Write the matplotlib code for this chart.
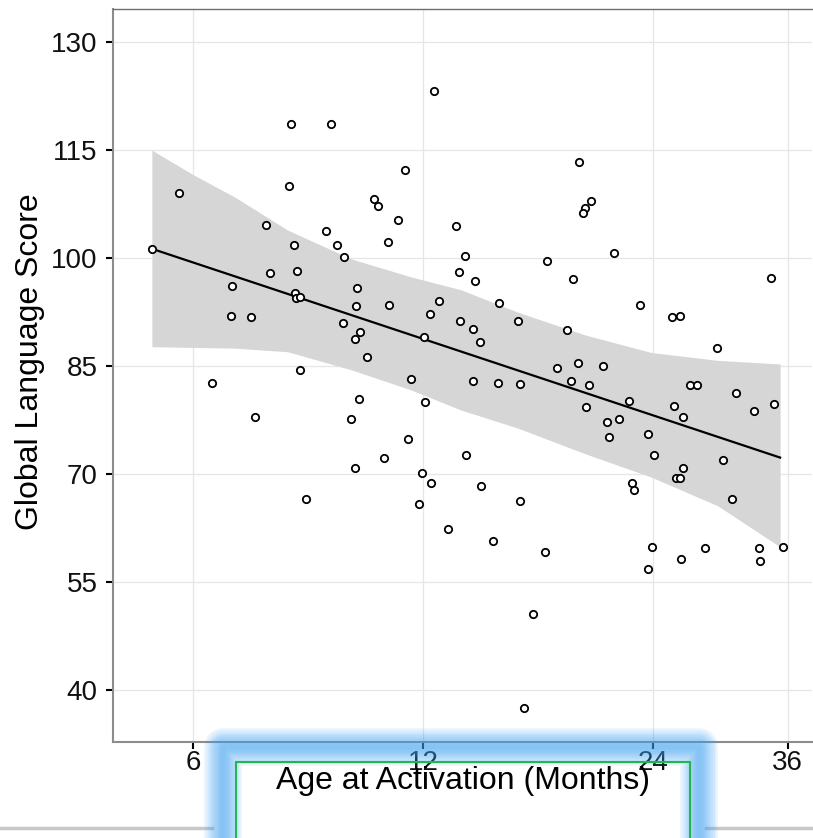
"""Global language score vs age at activation, with linear fit and band."""
import matplotlib
matplotlib.use("Agg")
import matplotlib.pyplot as plt
from matplotlib.patches import Rectangle
from matplotlib.lines import Line2D
from matplotlib.ticker import NullLocator

plt.rcParams["font.family"] = ["Liberation Sans", "DejaVu Sans"]

# age at activation (months) and global language score
age = [12.40, 8.06, 9.09, 11.37, 8.01, 5.76, 10.34, 10.47, 11.14, 13.26,
       7.47, 8.96, 10.81, 8.13, 9.26, 5.30, 9.47, 13.39, 7.57, 8.21,
       6.75, 9.84, 8.17, 8.19, 8.29, 9.81, 10.84, 12.59, 12.27, 6.72,
       7.15, 13.40, 9.42, 9.92, 9.78, 12.03, 10.15,
       19.22, 19.91, 19.55, 19.44, 21.32, 13.62, 17.45, 14.04, 18.84, 34.28,
       15.07, 23.06, 13.95, 15.99, 25.41, 26.03, 14.24, 18.54, 29.08, 17.97,
       19.13, 20.62,
       13.95, 15.04, 16.06, 18.76, 19.79, 26.86, 27.38, 30.85, 22.33, 25.57,
       34.56, 19.63, 32.54, 20.91, 21.64, 26.30, 21.02, 23.64, 13.65, 24.09,
       29.61, 26.25, 25.72, 26.06, 14.31, 22.55, 22.65, 16.06, 30.45, 14.83,
       23.93, 28.05, 33.00, 35.48, 17.35, 26.11, 33.13, 23.62, 16.73, 16.27,
       8.27, 6.35, 11.57, 9.89, 12.06, 7.24, 9.65, 11.47, 10.68, 9.79,
       11.96, 12.30, 8.43, 11.87, 12.93]
score = [123.2, 118.6, 118.6, 112.3, 110.0, 109.1, 108.2, 107.3, 105.3, 104.5,
         104.6, 103.8, 102.2, 101.8, 101.8, 101.3, 100.1, 98.1, 98.0, 98.2,
         96.1, 95.8, 95.2, 94.4, 94.6, 93.4, 93.5, 94.0, 92.3, 92.0,
         91.8, 91.3, 91.0, 89.7, 88.7, 89.0, 86.3,
         113.3, 108.0, 106.9, 106.3, 100.7, 100.3, 99.6, 96.8, 97.1, 97.3,
         93.8, 93.5, 90.2, 91.3, 91.8, 92.0, 88.4, 90.0, 87.5, 84.7,
         85.4, 85.0,
         83.0, 82.7, 82.5, 82.9, 82.4, 82.4, 82.4, 81.3, 80.1, 79.5,
         79.8, 79.3, 78.8, 77.3, 77.7, 77.9, 75.1, 75.6, 72.7, 72.7,
         71.9, 70.8, 69.5, 69.5, 68.4, 68.8, 67.8, 66.3, 66.6, 60.7,
         59.9, 59.8, 59.7, 59.9, 59.2, 58.2, 58.0, 56.8, 50.6, 37.5,
         84.5, 82.6, 83.2, 80.4, 80.0, 77.9, 77.6, 74.9, 72.2, 70.9,
         70.1, 68.8, 66.6, 65.8, 62.4]

# fitted line and confidence band
fit_age = [5.30, 35.20]
fit_score = [101.3, 72.3]
band_age = [5.30, 6.00, 6.80, 7.98, 9.66, 11.57, 13.46, 15.96, 19.60, 23.86,
            29.17, 35.20]
band_hi = [115.0, 111.6, 108.5, 103.9, 99.9, 97.4, 95.6, 92.5, 89.3, 86.9,
           85.8, 85.3]
band_lo = [87.7, 87.6, 87.5, 87.0, 84.5, 81.7, 78.9, 76.4, 72.8, 69.6,
           65.6, 59.9]

x_ticks = [6, 12, 24, 36]
y_ticks = [40, 55, 70, 85, 100, 115, 130]

W, H = 813, 838


def fx(px):
    return px / W


def fy(py):
    return 1 - py / H


fig = plt.figure(figsize=(W / 100, H / 100), dpi=100)
ax = fig.add_axes([fx(113), fy(742), (812 - 113) / W, (742 - 9) / H])

ax.fill_between(band_age, band_lo, band_hi, color="#d6d6d6", lw=0, zorder=1)
ax.plot(fit_age, fit_score, color="black", lw=1.6, zorder=3)
ax.scatter(age, score, s=28, facecolors="white", edgecolors="black",
           linewidths=1.3, zorder=4)

ax.set_xscale("log")
ax.set_xlim(4.714, 38.75)
ax.set_ylim(32.8, 134.6)
ax.set_xticks(x_ticks)
ax.set_xticklabels([str(t) for t in x_ticks])
ax.xaxis.set_minor_locator(NullLocator())
ax.set_yticks(y_ticks)
ax.grid(True, color="#e6e6e6", lw=0.9)
ax.set_axisbelow(True)

ax.tick_params(axis="both", length=5, width=1.5, color="black",
               labelsize=20, labelcolor="#111111")
ax.tick_params(axis="y", pad=6)
ax.tick_params(axis="x", pad=1)
for side in ["left", "bottom"]:
    ax.spines[side].set_color("#8c8c8c")
    ax.spines[side].set_linewidth(1.5)
ax.spines["top"].set_color("#6e6e6e")
ax.spines["top"].set_linewidth(1.0)
ax.spines["right"].set_visible(False)

fig.text(fx(30), fy(362), "Global Language Score", rotation=90,
         ha="center", va="center", fontsize=23, color="black")

# screenshot frame line at the bottom, hidden inside the highlight
for x0, x1 in [(0, 212), (706, W)]:
    fig.add_artist(Line2D([fx(x0), fx(x1)], [fy(828), fy(828)],
                          transform=fig.transFigure, color="#c8c8c8",
                          lw=2.5, zorder=2))

# blue glow highlight around the x label
gx0, gy0, gx1, gy1 = 223, 747, 699, 900
for k in range(10):
    half = 19 - k * 1.8
    fig.add_artist(Rectangle((fx(gx0), fy(gy1)), (gx1 - gx0) / W,
                             (gy1 - gy0) / H, transform=fig.transFigure,
                             facecolor="none", edgecolor="#3aa2f5",
                             lw=2 * half * 0.72, alpha=0.085,
                             joinstyle="round", zorder=5))
fig.add_artist(Rectangle((fx(236), fy(900)), (690 - 236) / W, (900 - 762) / H,
                         transform=fig.transFigure, facecolor="none",
                         edgecolor="#1fb84a", lw=1.5, zorder=7))

fig.text(fx(463), fy(781), "Age at Activation (Months)", ha="center",
         va="center", fontsize=23, color="black", zorder=8)

fig.savefig("out.png", dpi=100)
